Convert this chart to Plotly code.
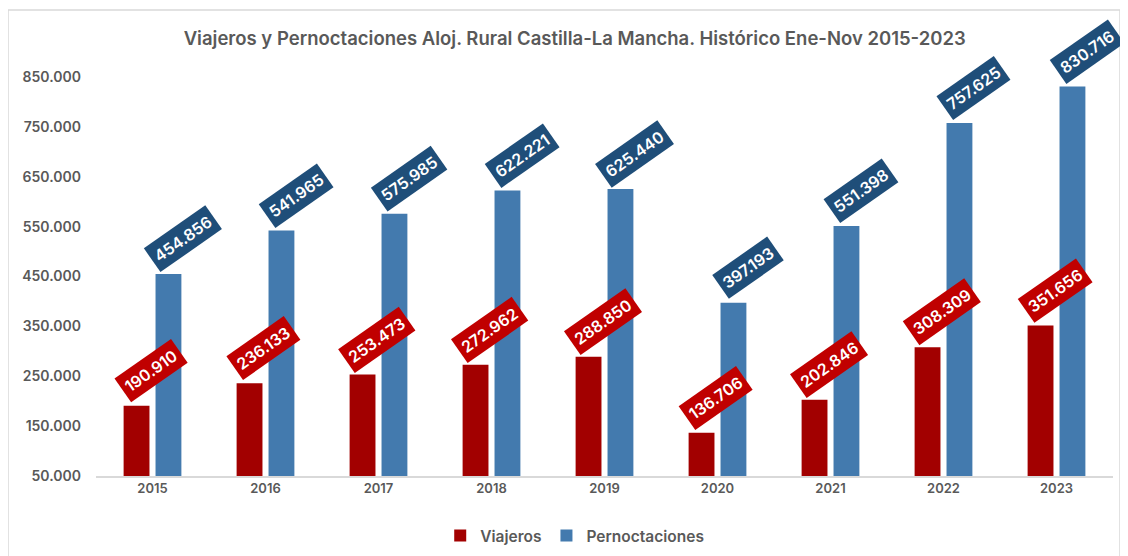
import plotly.graph_objects as go

years = ["2015", "2016", "2017", "2018", "2019", "2020", "2021", "2022", "2023"]
viajeros = [190910, 236133, 253473, 272962, 288850, 136706, 202846, 308309, 351656]
pernoctaciones = [454856, 541965, 575985, 622221, 625440, 397193, 551398, 757625, 830716]
tick_vals = [50000, 150000, 250000, 350000, 450000, 550000, 650000, 750000, 850000]
tick_text = ["50.000", "150.000", "250.000", "350.000", "450.000", "550.000", "650.000", "750.000", "850.000"]

def fmt(v):
    return f"{v:,}".replace(",", ".")

FONT = "Inter"
GRAY = "#595959"
RED = "#a20000"
BLUE = "#437aae"
RED_LBL = "#c00000"
BLUE_LBL = "#1f4e79"

W, H = 1120, 548
ML, MR, MT, MB = 88, 15, 54, 80
PW, PH = W - ML - MR, H - MT - MB

fig = go.Figure()
fig.add_trace(go.Bar(name="Viajeros", x=years, y=viajeros, marker=dict(color=RED, line=dict(width=0))))
fig.add_trace(go.Bar(name="Pernoctaciones", x=years, y=pernoctaciones, marker=dict(color=BLUE, line=dict(width=0))))

annotations = []
for i, v in enumerate(viajeros):
    annotations.append(dict(x=i, y=v, xref="x", yref="y", text=fmt(v), showarrow=False,
                            textangle=-35, xshift=-16 + 14, yshift=35, bgcolor=RED_LBL, borderpad=4,
                            font=dict(family=FONT, size=16, color="white", weight=600)))
for i, v in enumerate(pernoctaciones):
    annotations.append(dict(x=i, y=v, xref="x", yref="y", text=fmt(v), showarrow=False,
                            textangle=-35, xshift=16 + 14, yshift=35, bgcolor=BLUE_LBL, borderpad=4,
                            font=dict(family=FONT, size=16, color="white", weight=600)))

fig.update_layout(
    width=W, height=H,
    margin=dict(l=ML, r=MR, t=MT, b=MB, autoexpand=False),
    paper_bgcolor="white", plot_bgcolor="white",
    barmode="group", bargap=0.435, bargroupgap=0.19,
    title=dict(text="Viajeros y Pernoctaciones Aloj. Rural Castilla-La Mancha. Histórico Ene-Nov 2015-2023",
               x=0.506, xref="container", xanchor="center", y=0.945, yref="container", yanchor="middle",
               font=dict(family=FONT, size=18.5, color=GRAY, weight=600)),
    font=dict(family=FONT, color=GRAY),
    xaxis=dict(type="category", range=[-0.5, len(years) - 0.5], showline=True, linecolor="#d9d9d9",
               linewidth=1.5, ticks="", showgrid=False, automargin=False,
               tickfont=dict(family=FONT, size=13, color=GRAY, weight=600)),
    yaxis=dict(range=[50000, 880000], tickvals=tick_vals, ticktext=tick_text, showgrid=False,
               zeroline=False, showline=False, ticks="", ticklabelstandoff=14, automargin=False,
               tickfont=dict(family=FONT, size=14, color=GRAY, weight=600)),
    legend=dict(orientation="h", x=0.506, xref="container", xanchor="center", y=0.0365, yref="container",
                yanchor="middle", font=dict(family=FONT, size=15.5, color=GRAY, weight=600),
                itemwidth=30, traceorder="normal"),
    annotations=annotations,
    shapes=[dict(type="rect", xref="paper", yref="paper", x0=(0 - ML) / PW, x1=(1112 - ML) / PW,
                 y0=(PH + MT - 552) / PH, y1=(PH + MT - 2) / PH, line=dict(color="#d9d9d9", width=1.5),
                 fillcolor="rgba(0,0,0,0)", layer="below")],
)

fig.write_html("out.html")
